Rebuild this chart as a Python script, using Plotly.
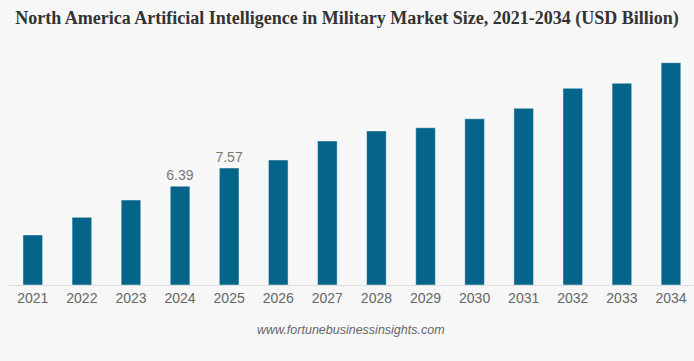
import plotly.graph_objects as go

years = ["2021", "2022", "2023", "2024", "2025", "2026", "2027",
         "2028", "2029", "2030", "2031", "2032", "2033", "2034"]
values = [3.24, 4.38, 5.50, 6.39, 7.57, 8.09, 9.32,
          9.97, 10.18, 10.76, 11.44, 12.73, 13.06, 14.39]
labels = ["", "", "", "6.39", "7.57", "", "", "", "", "", "", "", "", ""]

title = "North America Artificial Intelligence in Military Market Size, 2021-2034 (USD Billion)"
source = "www.fortunebusinessinsights.com"

bg = "#f7f7f7"
fig = go.Figure(go.Bar(
    x=years, y=values, text=labels, textposition="outside", constraintext="none",
    textfont=dict(family="Liberation Sans, Arial", size=14, color="#777777"),
    marker=dict(color="#05648a", line=dict(color="rgba(255,255,255,0.45)", width=1)),
    cliponaxis=False, hoverinfo="skip",
))

fig.update_layout(
    width=694, height=361,
    margin=dict(l=8, r=0, t=50, b=76),
    paper_bgcolor=bg, plot_bgcolor=bg,
    bargap=0.6,
    showlegend=False,
    title=dict(text="<b>" + title + "</b>", x=0.5, xanchor="center", y=1 - 17.5 / 361, yanchor="middle",
               font=dict(family="Liberation Serif, Times New Roman", size=18, color="#333333")),
    xaxis=dict(type="category", range=[-0.505, 13.469], showgrid=False, showline=True,
               linecolor="#dddddd", linewidth=1, ticks="", ticklen=0,
               tickfont=dict(family="Liberation Sans, Arial", size=14, color="#666666")),
    yaxis=dict(range=[0, 15.21], visible=False, showgrid=False, zeroline=False),
    annotations=[dict(text="<i>" + source + "</i>", xref="paper", yref="paper",
                      x=(351 - 8) / 686, y=-(330 - 285) / 235, xanchor="center", yanchor="middle",
                      showarrow=False,
                      font=dict(family="Liberation Sans, Arial", size=12.5, color="#666666"))],
)

fig.write_html("out.html", config={"displayModeBar": False},
               post_script="document.body.style.margin='0';document.body.style.background='" + bg + "';")
